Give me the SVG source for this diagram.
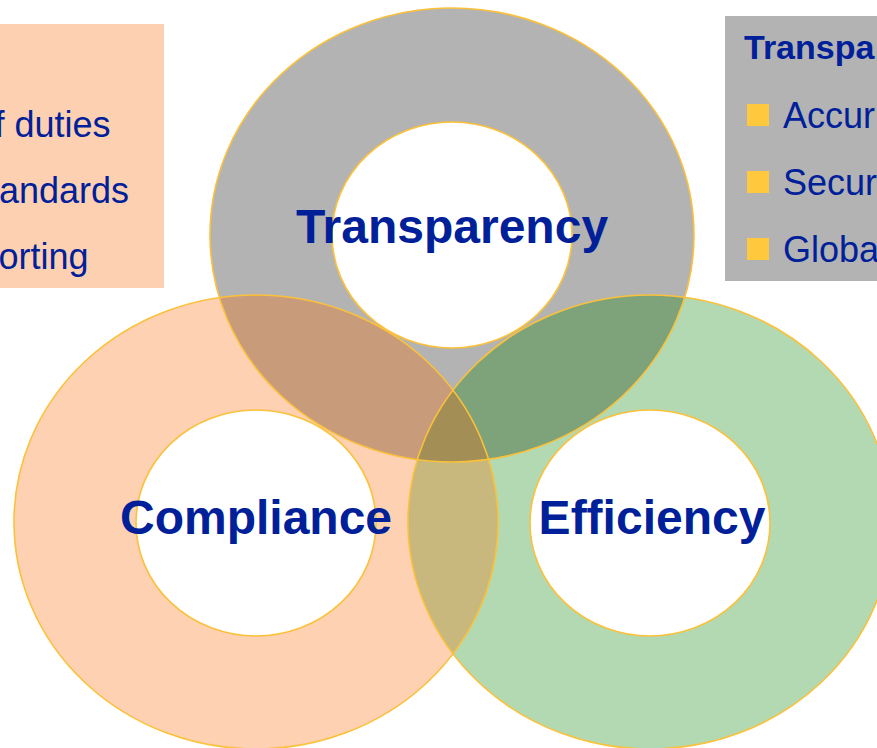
<svg xmlns="http://www.w3.org/2000/svg" width="877" height="748" viewBox="0 0 877 748">
<style>
.lbl{font-family:"Liberation Sans",Arial,sans-serif;font-weight:bold;font-size:48px;fill:#00209a;text-anchor:middle}
.txt{font-family:"Liberation Sans",Arial,sans-serif;font-size:36px;fill:#00209a}
.ttl{font-family:"Liberation Sans",Arial,sans-serif;font-weight:bold;font-size:34px;fill:#00209a}
.edge{fill:none;stroke:#fbc13a;stroke-width:1.6}
.bul{fill:#ffc83d}
</style>
<defs>
<path id="ringT" fill-rule="evenodd" d="M210,235a242,227 0 1,0 484,0a242,227 0 1,0 -484,0Z M332,235a120,113 0 1,0 240,0a120,113 0 1,0 -240,0Z"/>
<path id="ringC" fill-rule="evenodd" d="M14,522a242,227 0 1,0 484,0a242,227 0 1,0 -484,0Z M136,523a120,113 0 1,0 240,0a120,113 0 1,0 -240,0Z"/>
<path id="ringE" fill-rule="evenodd" d="M408,522a242,227 0 1,0 484,0a242,227 0 1,0 -484,0Z M530,523a120,113 0 1,0 240,0a120,113 0 1,0 -240,0Z"/>
<clipPath id="clipT"><path clip-rule="evenodd" d="M210,235a242,227 0 1,0 484,0a242,227 0 1,0 -484,0Z M332,235a120,113 0 1,0 240,0a120,113 0 1,0 -240,0Z"/></clipPath>
<clipPath id="clipC"><path clip-rule="evenodd" d="M14,522a242,227 0 1,0 484,0a242,227 0 1,0 -484,0Z M136,523a120,113 0 1,0 240,0a120,113 0 1,0 -240,0Z"/></clipPath>
</defs>
<rect width="877" height="748" fill="#ffffff"/>

<g id="box-left">
<rect x="0" y="24" width="164" height="264" fill="#fdd0b1"/>
<text class="txt" x="-5.5" y="137">f duties</text>
<text class="txt" x="-1" y="203">andards</text>
<text class="txt" x="-1.5" y="269">orting</text>
</g>

<g id="box-right">
<rect x="725" y="16" width="152" height="265" fill="#b3b3b3"/>
<text class="ttl" x="744" y="59">Transpa</text>
<rect class="bul" x="747" y="104" width="22" height="22"/>
<text class="txt" x="783" y="128">Accur</text>
<rect class="bul" x="747" y="171" width="22" height="22"/>
<text class="txt" x="783" y="195">Secur</text>
<rect class="bul" x="747" y="238" width="22" height="22"/>
<text class="txt" x="783" y="262">Globa</text>
</g>

<g id="ring-transparency">
<use href="#ringT" fill="#b3b3b3"/>
</g>
<g id="ring-compliance">
<use href="#ringC" fill="#fdd1b2"/>
</g>
<g id="ring-efficiency">
<use href="#ringE" fill="#b3d9b3"/>
</g>

<g id="overlaps">
<use href="#ringC" fill="#c89b7b" clip-path="url(#clipT)"/>
<use href="#ringE" fill="#7ea37a" clip-path="url(#clipT)"/>
<use href="#ringE" fill="#c8b87e" clip-path="url(#clipC)"/>
<g clip-path="url(#clipT)"><use href="#ringE" fill="#a38f56" clip-path="url(#clipC)"/></g>
</g>

<g id="outlines">
<ellipse class="edge" cx="452" cy="235" rx="242" ry="227"/>
<ellipse class="edge" cx="452" cy="235" rx="120" ry="113"/>
<ellipse class="edge" cx="256" cy="522" rx="242" ry="227"/>
<ellipse class="edge" cx="256" cy="523" rx="120" ry="113"/>
<ellipse class="edge" cx="650" cy="522" rx="242" ry="227"/>
<ellipse class="edge" cx="650" cy="523" rx="120" ry="113"/>
</g>

<g id="labels">
<text class="lbl" x="452" y="243">Transparency</text>
<text class="lbl" x="256" y="534">Compliance</text>
<text class="lbl" x="652" y="534">Efficiency</text>
</g>
</svg>
